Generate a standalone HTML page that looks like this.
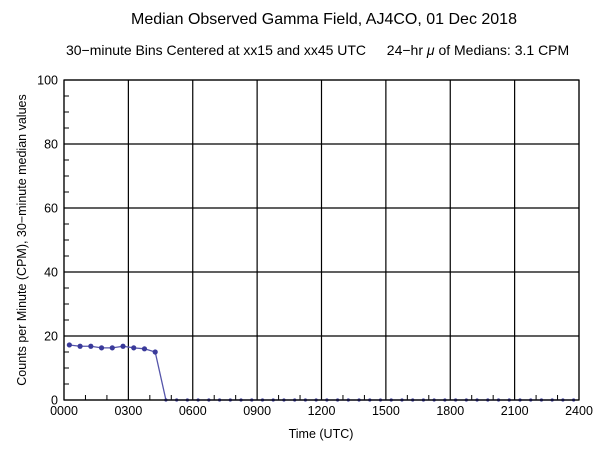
<!DOCTYPE html>
<html><head><meta charset="utf-8"><style>body{margin:0;background:#fff}svg{display:block}text{font-family:"Liberation Sans",sans-serif;fill:#000}</style></head>
<body>
<svg id="chart" width="600" height="459">
<text x="324" y="24" font-size="16" text-anchor="middle">Median Observed Gamma Field, AJ4CO, 01 Dec 2018</text>
<text x="216" y="55" font-size="14" text-anchor="middle" textLength="300">30−minute Bins Centered at xx15 and xx45 UTC</text>
<text x="478" y="55" font-size="14" text-anchor="middle">24−hr <tspan font-style="italic">μ</tspan> of Medians: 3.1 CPM</text>
<text x="321" y="438" font-size="12.5" text-anchor="middle">Time (UTC)</text>
<text transform="translate(26,240) rotate(-90)" font-size="12.5" text-anchor="middle">Counts per Minute (CPM), 30−minute median values</text>
<g id="grid"></g><g id="ticks"></g><g id="series"></g>
<rect x="64" y="80" width="515" height="320" fill="none" stroke="#000" stroke-width="1.2"/>
</svg>
<script>
const xTickLabels=["0000","0300","0600","0900","1200","1500","1800","2100","2400"];
const yTickValues=[0,20,40,60,80,100];
const times=[0.25,0.75,1.25,1.75,2.25,2.75,3.25,3.75,4.25,4.75,5.25,5.75,6.25,6.75,7.25,7.75,8.25,8.75,9.25,9.75,10.25,10.75,11.25,11.75,12.25,12.75,13.25,13.75,14.25,14.75,15.25,15.75,16.25,16.75,17.25,17.75,18.25,18.75,19.25,19.75,20.25,20.75,21.25,21.75,22.25,22.75,23.25,23.75];
const values=[17.2,16.8,16.8,16.3,16.3,16.8,16.3,16.0,15.0,0,0,0,0,0,0,0,0,0,0,0,0,0,0,0,0,0,0,0,0,0,0,0,0,0,0,0,0,0,0,0,0,0,0,0,0,0,0,0];
const NS="http://www.w3.org/2000/svg";
const X=h=>64+h*515/24, Y=v=>400-v*3.2;
function mk(t,a,p){const e=document.createElementNS(NS,t);for(const k in a)e.setAttribute(k,a[k]);p.appendChild(e);return e;}
const g=document.getElementById('grid'),tk=document.getElementById('ticks'),s=document.getElementById('series');
xTickLabels.forEach((l,i)=>{const x=X(i*3);
 const ln=mk('line',{x1:x,x2:x,y1:80,y2:400,stroke:'#000','stroke-width':1.2},g);
 
 
 const t=mk('text',{x:x,y:415,'font-size':12.5,'text-anchor':'middle'},tk);t.textContent=l;
 
 });
for(let h=1;h<24;h++){if(h%3)mk('line',{x1:X(h),x2:X(h),y1:400,y2:395,stroke:'#000'},tk);}
yTickValues.forEach(v=>{const y=Y(v);
 const ln=mk('line',{x1:64,x2:579,y1:y,y2:y,stroke:'#000','stroke-width':1.2},g);
 
 
 const t=mk('text',{x:58,y:y+4.5,'font-size':12.5,'text-anchor':'end'},tk);t.textContent=v;
 
 });
for(let v=5;v<100;v+=5){if(v%20)mk('line',{x1:64,x2:69,y1:Y(v),y2:Y(v),stroke:'#000'},tk);}
const pts=times.map((t,i)=>X(t)+','+Y(values[i])).join(' ');
const pl=mk('polyline',{points:pts,fill:'none',stroke:'#5555aa','stroke-width':1.3},s);


times.forEach((t,i)=>{const c=mk('circle',{cx:X(t),cy:Y(values[i]),r:values[i]>0?2.6:1.6,fill:'#3a3a9a'},s);
 
 });
</script>
</body></html>
